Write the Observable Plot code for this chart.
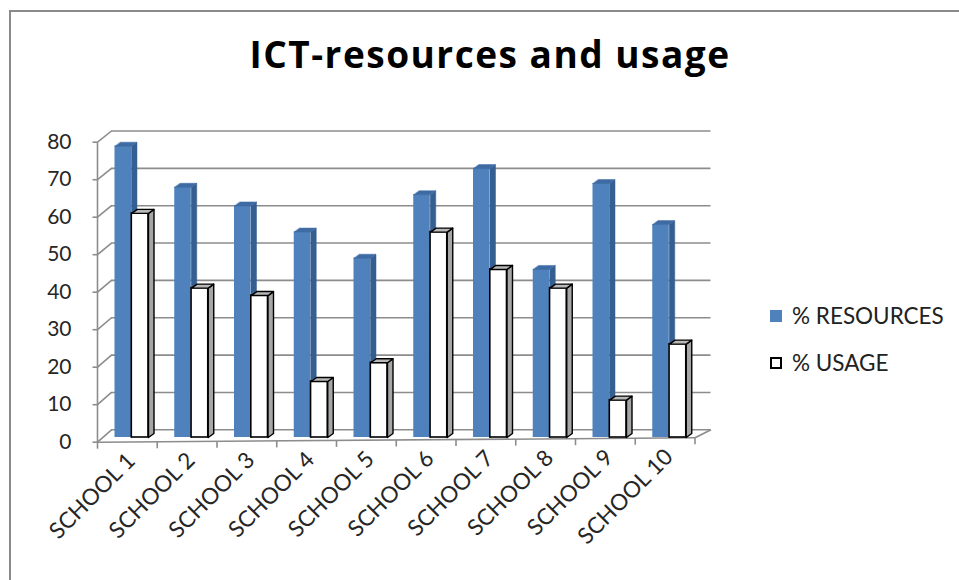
<!DOCTYPE html>
<html><head><meta charset="utf-8">
<script src="https://cdn.jsdelivr.net/npm/d3@7"></script>
<script src="https://cdn.jsdelivr.net/npm/@observablehq/plot@0.6"></script>
<style>
body{margin:0;background:#fff;}
#wrap{position:relative;width:959px;height:580px;overflow:hidden;font-family:Lato,"Open Sans",sans-serif;background:#fff;}
#frame{position:absolute;left:9px;top:10px;width:1000px;height:600px;border-top:2px solid #8a8a8a;border-left:2px solid #8a8a8a;}
#title{position:absolute;left:0;width:980px;top:30px;text-align:center;font-family:"Open Sans",Lato,sans-serif;font-weight:bold;font-size:37px;color:#000;line-height:48px;letter-spacing:1.5px;}
#chart{position:absolute;left:0;top:0;}
.leg{position:absolute;left:770px;font-size:22.5px;color:#222;line-height:24px;height:24px;}
.sw{position:absolute;left:0;top:6px;width:12px;height:12px;box-sizing:border-box;}
.lt{position:absolute;left:22px;top:0;white-space:nowrap;}
</style></head>
<body>
<div id="wrap">
  <div id="frame"></div>
  <div id="title"></div>
  <div id="chart"></div>
  <div id="legend"></div>
</div>
<script>
const title = "ICT-resources and usage";
const schools = ["SCHOOL 1","SCHOOL 2","SCHOOL 3","SCHOOL 4","SCHOOL 5","SCHOOL 6","SCHOOL 7","SCHOOL 8","SCHOOL 9","SCHOOL 10"];
const resources = [78, 67, 62, 55, 48, 65, 72, 45, 68, 57];
const usage = [60, 40, 38, 15, 20, 55, 45, 40, 10, 25];
const yTicks = [0, 10, 20, 30, 40, 50, 60, 70, 80];
const seriesNames = ["% RESOURCES", "% USAGE"];

// geometry helpers (pixel offsets -> data units)
const BAND = 59.75, UNIT = (437 - 138.2) / 80;
const px2x = p => p / BAND, px2y = p => p / UNIT;
const frontY = v => v - (4.7 - 0.015 * v) / UNIT;
const backY = v => v + px2y(7.7);
const floorY = i => -(4.7 - 0.44 * i) / UNIT;
const GRID = "#8c8c8c";
const dX = px2x(5.5), dY = px2y(4);

const n = schools.length;
const idx = d3.range(n);
const xTicks = d3.range(n + 1);

function faces(values, a0, a1) {
  const side = [], top = [];
  values.forEach((v, i) => {
    side.push({id: i, x: i + a1, y: 0}, {id: i, x: i + a1, y: v}, {id: i, x: i + a1 + dX, y: v + dY}, {id: i, x: i + a1 + dX, y: dY});
    top.push({id: i, x: i + a0, y: v}, {id: i, x: i + a1, y: v}, {id: i, x: i + a1 + dX, y: v + dY}, {id: i, x: i + a0 + dX, y: v + dY});
  });
  return {side, top};
}
const bA0 = px2x(17.5), bA1 = px2x(34);
const wA0 = px2x(34.3), wA1 = px2x(51);
const bF = faces(resources, bA0, bA1);
const wF = faces(usage, wA0, wA1);

const plot = Plot.plot({
  width: 959, height: 580,
  marginLeft: 97, marginRight: 959 - 694.5, marginTop: 138.2, marginBottom: 143,
  x: {type: "linear", domain: [0, n], axis: null},
  y: {type: "linear", domain: [0, 80], axis: null},
  style: {fontFamily: "Lato, 'Open Sans', sans-serif", background: "transparent"},
  marks: [
    Plot.ruleY(yTicks, {y: d => backY(d), x1: px2x(14), x2: n + px2x(16), stroke: GRID, strokeWidth: 1.6}),
    Plot.link(yTicks, {x1: 0, y1: d => frontY(d), x2: px2x(14), y2: d => backY(d), stroke: GRID, strokeWidth: 1.6}),
    Plot.link([0], {x1: 0, x2: 0, y1: frontY(0), y2: frontY(80), stroke: GRID, strokeWidth: 1.6}),
    Plot.link(yTicks, {x1: -px2x(5), x2: 0, y1: d => frontY(d), y2: d => frontY(d), stroke: GRID, strokeWidth: 1.6}),
    Plot.link([0], {x1: 0, y1: floorY(0), x2: n, y2: floorY(n), stroke: GRID, strokeWidth: 1.6}),
    Plot.link([0], {x1: n, y1: floorY(n), x2: n + px2x(16), y2: backY(0), stroke: GRID, strokeWidth: 1.6}),
    Plot.link(xTicks, {x1: d => d, x2: d => d, y1: d => floorY(d), y2: d => floorY(d) - px2y(6.5), stroke: GRID, strokeWidth: 1.6}),
    Plot.rect(idx, {x1: i => i + bA0, x2: i => i + bA1, y1: 0, y2: i => resources[i], fill: "#4f81bd"}),
    Plot.line(bF.side, {x: "x", y: "y", z: "id", fill: "#365f91", stroke: "#365f91", strokeWidth: 0.5, curve: "linear-closed"}),
    Plot.line(bF.top, {x: "x", y: "y", z: "id", fill: "#3e6ba3", stroke: "#3e6ba3", strokeWidth: 0.5, curve: "linear-closed"}),
    Plot.rect(idx, {x1: i => i + wA0, x2: i => i + wA1, y1: 0, y2: i => usage[i], fill: "#fff", stroke: "#000", strokeWidth: 1.6}),
    Plot.line(wF.side, {x: "x", y: "y", z: "id", fill: "#a6a6a6", stroke: "#000", strokeWidth: 1.4, curve: "linear-closed"}),
    Plot.line(wF.top, {x: "x", y: "y", z: "id", fill: "#b8b8b8", stroke: "#000", strokeWidth: 1.4, curve: "linear-closed"}),
    Plot.text(yTicks, {x: 0, y: d => frontY(d), dx: -26, textAnchor: "end", fontSize: 21, fill: "#262626", text: d => String(d)}),
    Plot.text(idx, {x: i => i + 0.5, y: i => floorY(i), text: i => schools[i], rotate: -45, textAnchor: "end", dx: 4, dy: 15, fontSize: 22.5, fill: "#262626"})
  ]
});
document.getElementById("chart").appendChild(plot);
document.getElementById("title").textContent = title;

const legend = document.getElementById("legend");
const legItems = [
  {name: seriesNames[0], top: 304, sw: "background:#4f81bd;"},
  {name: seriesNames[1], top: 351, sw: "background:#fff;border:2px solid #000;"}
];
legItems.forEach(it => {
  const d = document.createElement("div");
  d.className = "leg";
  d.style.top = it.top + "px";
  d.innerHTML = `<div class="sw" style="${it.sw}"></div><div class="lt"></div>`;
  d.querySelector(".lt").textContent = it.name;
  legend.appendChild(d);
});
</script>
</body></html>
